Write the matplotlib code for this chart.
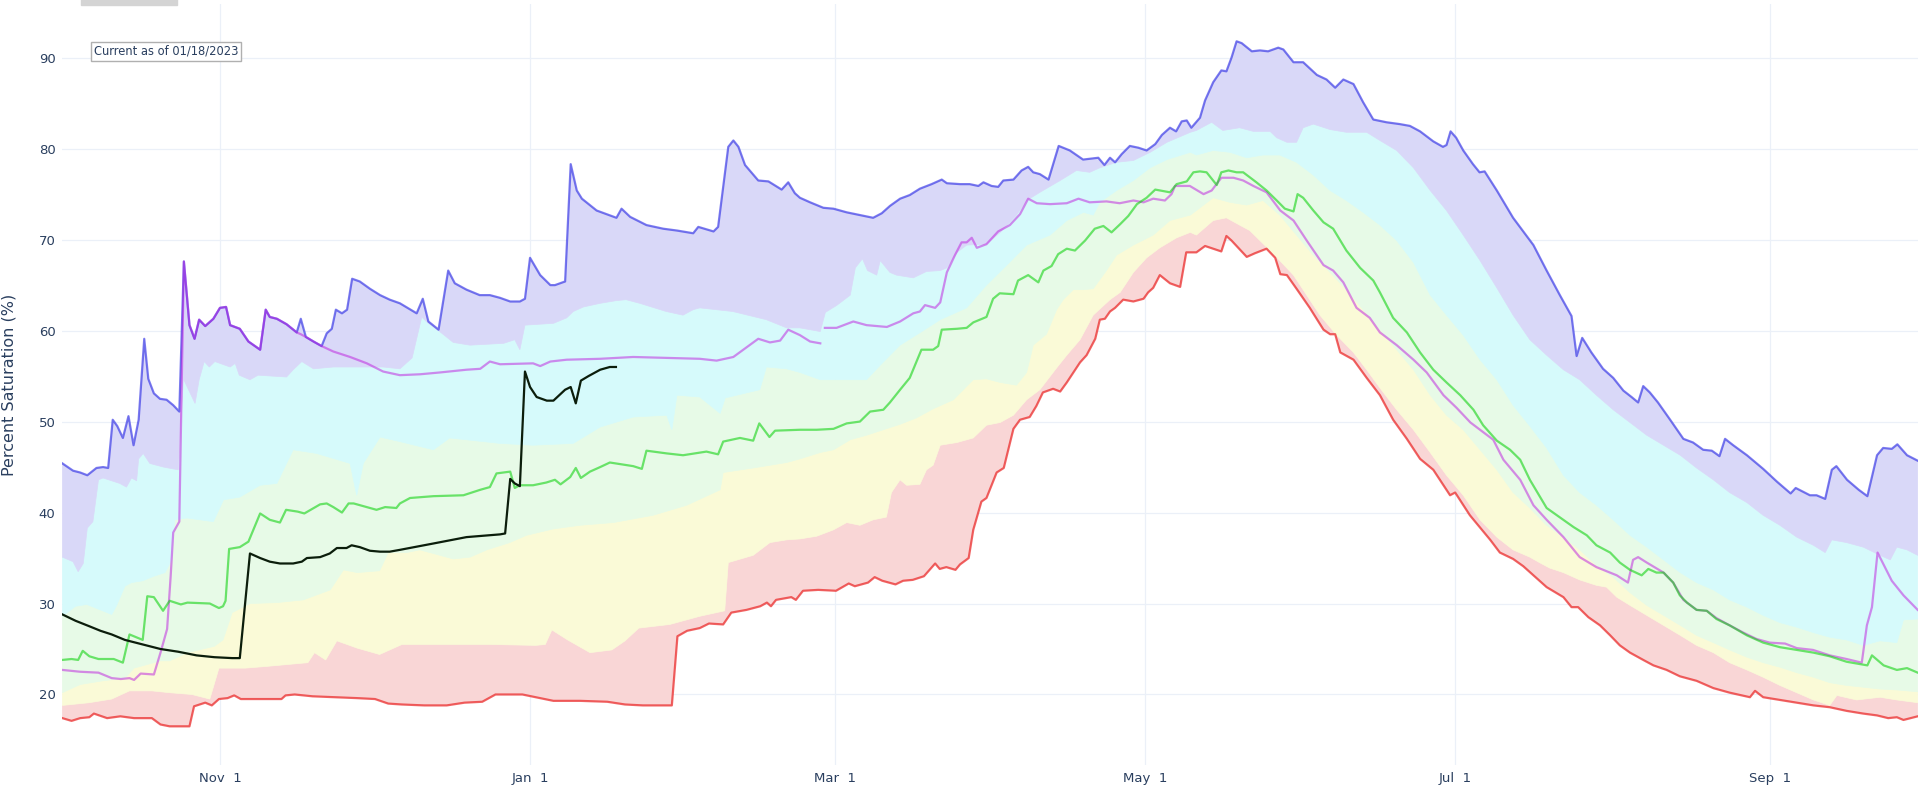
import numpy as np
import pandas as pd
import matplotlib
matplotlib.use("Agg")
import matplotlib.pyplot as plt
from matplotlib.patches import Rectangle

# day of water year (0 = Oct 1), percent saturation
max_pts = [(0, 45.4), (2.1, 44.6), (3.5, 44.4), (4.9, 44.1), (6.7, 44.9), (8.0, 45.0), (9.0, 44.9), (9.9, 50.2),
           (10.8, 49.5), (11.9, 48.2), (13.0, 50.6), (14.0, 47.4), (15.0, 50.2), (16.1, 59.1), (16.9, 54.7),
           (18.0, 53.1), (19.2, 52.5), (20.5, 52.4), (21.8, 51.8), (23.0, 51.1), (23.9, 67.6), (25.0, 60.6),
           (26.0, 59.1), (26.9, 61.2), (28.1, 60.5), (29.7, 61.3), (31.0, 62.5), (32.2, 62.6), (33.0, 60.6),
           (34.9, 60.2), (36.6, 58.8), (38.9, 57.9), (40.0, 62.3), (40.8, 61.5), (42.2, 61.3), (44.1, 60.7),
           (46.1, 59.8), (46.9, 61.3), (47.9, 59.3), (49.4, 58.8), (51.0, 58.3), (52.0, 59.7), (53.0, 60.2),
           (53.8, 62.3), (55.0, 61.9), (56.0, 62.3), (57.0, 65.7), (58.5, 65.4), (60.5, 64.6), (62.5, 63.9),
           (64.4, 63.4), (66.4, 63.0), (69.7, 61.9), (70.9, 63.5), (72.0, 61.0), (74.0, 60.1), (75.9, 66.6),
           (77.2, 65.2), (79.5, 64.5), (82.1, 63.9), (84.1, 63.9), (86.1, 63.6), (88.1, 63.2), (90.0, 63.2),
           (91.0, 63.5), (92.0, 68.0), (94.0, 66.1), (96.0, 65.0), (96.9, 65.0), (98.9, 65.4), (100.0, 78.3),
           (101.2, 75.4), (102.2, 74.5), (105.1, 73.2), (109.0, 72.4), (110.0, 73.4), (111.7, 72.5),
           (114.9, 71.6), (118.2, 71.2), (120.9, 71.0), (124.1, 70.7), (125.1, 71.4), (128.1, 70.9),
           (129.0, 71.4), (131.0, 80.2), (132.0, 80.9), (133.0, 80.2), (134.3, 78.2), (136.9, 76.5),
           (138.9, 76.4), (141.5, 75.5), (142.8, 76.3), (144.1, 75.1), (145.1, 74.6), (147.1, 74.1),
           (149.7, 73.5), (151.7, 73.4), (154.3, 73.0), (156.9, 72.7), (159.5, 72.4), (161.2, 72.9),
           (162.8, 73.7), (164.8, 74.5), (166.7, 74.9), (168.7, 75.6), (171.0, 76.1), (173.0, 76.6),
           (174.0, 76.2), (176.6, 76.1), (178.5, 76.1), (180.2, 75.9), (181.2, 76.3), (182.8, 75.9),
           (184.1, 75.8), (185.1, 76.5), (187.1, 76.6), (188.7, 77.6), (190.0, 78.0), (191.0, 77.4),
           (192.3, 77.2), (194.0, 76.6), (196.0, 80.3), (198.2, 79.8), (200.8, 78.8), (203.8, 79.0),
           (205.0, 78.2), (206.1, 79.0), (207.1, 78.5), (208.4, 79.4), (210.0, 80.3), (211.7, 80.1),
           (213.3, 79.8), (215.0, 80.5), (216.3, 81.5), (217.9, 82.3), (219.1, 81.9), (220.2, 83.0),
           (221.2, 83.1), (222.1, 82.3), (223.8, 83.4), (224.8, 85.3), (226.4, 87.3), (228.0, 88.6),
           (229.0, 88.5), (230.0, 90.0), (231.0, 91.8), (232.0, 91.6), (234.0, 90.7), (235.6, 90.8),
           (237.2, 90.7), (239.2, 91.1), (240.2, 90.9), (242.2, 89.5), (244.1, 89.5), (246.8, 88.1),
           (248.7, 87.6), (250.4, 86.7), (252.0, 87.6), (254.0, 87.1), (255.9, 85.1), (257.9, 83.2),
           (260.5, 82.9), (263.1, 82.7), (265.1, 82.5), (267.1, 81.9), (269.7, 80.8), (271.6, 80.2),
           (272.3, 80.4), (273.1, 81.9), (274.2, 81.2), (275.6, 79.8), (277.5, 78.3), (278.8, 77.4),
           (279.8, 77.5), (282.2, 75.4), (285.4, 72.4), (289.4, 69.4), (292.0, 66.6), (294.6, 63.9),
           (296.9, 61.6), (297.9, 57.2), (299.0, 59.2), (300.8, 57.6), (303.1, 55.8), (305.1, 54.8),
           (307.1, 53.4), (308.7, 52.7), (310.0, 52.1), (311.0, 53.9), (312.3, 53.2), (313.9, 52.1),
           (316.3, 50.2), (318.9, 48.1), (320.8, 47.7), (322.8, 46.9), (324.5, 46.8), (326.0, 46.2),
           (327.1, 48.1), (328.7, 47.4), (331.4, 46.3), (334.6, 44.8), (337.3, 43.4), (340.0, 42.1),
           (341.0, 42.7), (343.8, 41.9), (345.1, 41.9), (346.8, 41.5), (348.1, 44.7), (349.0, 45.1),
           (351.1, 43.6), (353.4, 42.5), (355.1, 41.8), (357.0, 46.3), (358.2, 47.1), (359.9, 47.0),
           (361.0, 47.5), (362.9, 46.3), (365.0, 45.7)]

p90_pts = [(0, 35.1), (2.1, 34.6), (3.1, 33.5), (4.1, 34.4), (4.9, 38.3), (6.0, 39.0), (7.1, 43.6), (8.0, 43.8),
           (11.3, 43.2), (12.6, 42.8), (13.6, 43.8), (14.6, 43.5), (15.0, 45.9), (15.9, 46.5), (17.2, 45.4),
           (19.9, 45.0), (21.8, 44.8), (22.8, 44.7), (23.8, 54.7), (26.1, 52.0), (26.9, 54.6), (27.9, 56.6),
           (28.9, 56.0), (30.0, 56.6), (33.0, 56.0), (34.0, 56.4), (34.8, 55.1), (36.9, 54.6), (38.5, 55.1),
           (44.1, 54.9), (45.4, 55.7), (47.1, 56.6), (49.4, 55.8), (53.3, 56.0), (59.9, 56.0), (63.1, 56.0),
           (66.4, 55.8), (68.8, 57.0), (70.7, 61.5), (72.0, 60.8), (74.0, 60.0), (76.9, 58.7), (80.2, 58.4),
           (83.5, 58.5), (86.8, 58.6), (89.0, 59.0), (90.0, 57.9), (91.0, 60.6), (96.6, 60.8), (99.2, 61.4),
           (100.5, 62.1), (102.5, 62.6), (105.8, 63.0), (109.0, 63.3), (110.9, 63.4), (113.6, 63.0),
           (118.8, 62.1), (122.1, 61.7), (124.1, 62.3), (125.4, 62.5), (131.9, 62.1), (138.5, 61.2),
           (142.5, 60.3), (145.1, 60.3), (149.1, 59.9), (150.1, 62.0), (152.4, 62.8), (155.0, 63.9),
           (156.0, 66.9), (157.4, 67.9), (158.4, 66.6), (160.2, 66.1), (160.9, 67.7), (162.8, 66.4),
           (164.1, 66.1), (167.4, 65.8), (170.0, 66.5), (172.7, 66.6), (174.0, 66.9), (176.0, 68.6),
           (177.9, 69.4), (181.8, 69.5), (184.5, 70.8), (187.7, 72.7), (189.7, 74.3), (192.3, 75.2),
           (196.3, 76.5), (199.5, 77.6), (202.1, 77.4), (204.1, 77.9), (207.4, 78.5), (210.7, 78.7),
           (214.0, 79.6), (217.3, 80.7), (221.9, 81.8), (223.1, 82.0), (226.1, 82.9), (228.3, 82.0),
           (231.6, 82.3), (234.3, 81.9), (237.6, 81.9), (238.9, 81.2), (240.9, 80.7), (242.8, 80.7),
           (244.1, 82.3), (246.1, 82.7), (249.4, 82.1), (252.6, 81.8), (256.6, 81.8), (259.2, 80.9),
           (262.5, 79.8), (265.8, 77.9), (269.1, 75.4), (272.3, 73.2), (275.6, 70.5), (278.9, 67.7),
           (282.2, 64.7), (285.4, 61.7), (288.7, 59.0), (292.0, 57.3), (295.3, 55.7), (298.5, 54.6),
           (301.8, 52.9), (305.1, 51.3), (308.4, 49.9), (311.7, 48.5), (315.0, 47.4), (318.3, 46.3),
           (321.5, 44.9), (324.8, 43.6), (328.0, 42.2), (331.4, 41.1), (334.6, 39.7), (337.9, 38.6),
           (341.2, 37.3), (344.5, 36.4), (346.8, 35.6), (348.1, 37.0), (351.0, 36.7), (354.3, 36.2),
           (357.6, 35.3), (359.6, 34.8), (360.9, 36.2), (362.9, 35.9), (365.0, 35.3)]

p70_pts = [(0, 28.6), (2.6, 29.7), (4.8, 29.9), (7.9, 29.2), (9.7, 28.8), (10.6, 29.7), (12.3, 31.9),
           (13.6, 32.3), (15.8, 32.5), (18.0, 33.0), (20.2, 33.4), (21.5, 34.8), (22.1, 39.2), (24.5, 39.4),
           (27.1, 39.2), (29.7, 39.0), (31.7, 41.4), (34.9, 41.7), (38.9, 43.0), (42.2, 43.2), (45.4, 46.9),
           (50.0, 46.5), (56.6, 45.4), (57.9, 41.9), (59.2, 45.4), (62.5, 48.3), (66.4, 47.8), (73.0, 46.9),
           (76.2, 48.2), (86.1, 47.6), (92.6, 47.4), (100.5, 47.6), (105.8, 49.4), (112.3, 50.5),
           (118.9, 50.7), (119.9, 49.1), (120.9, 52.9), (125.4, 52.7), (129.4, 50.9), (130.4, 52.6),
           (137.2, 53.5), (138.5, 56.0), (142.5, 55.8), (145.1, 55.4), (149.1, 54.6), (153.0, 54.6),
           (158.2, 54.6), (160.9, 56.2), (164.8, 58.4), (168.8, 59.8), (172.7, 61.2), (177.9, 62.5),
           (181.8, 65.0), (185.8, 67.2), (189.7, 69.4), (194.3, 70.5), (197.6, 72.1), (200.9, 73.0),
           (202.8, 72.7), (204.1, 74.1), (207.4, 75.4), (210.7, 76.5), (214.0, 77.9), (217.3, 78.8),
           (221.9, 79.6), (223.1, 79.3), (226.4, 79.8), (229.7, 79.6), (233.0, 79.0), (236.2, 79.3),
           (239.5, 79.3), (242.8, 78.5), (246.1, 77.1), (249.4, 75.4), (252.6, 74.3), (255.9, 73.0),
           (259.2, 71.6), (262.5, 69.9), (265.8, 67.5), (269.1, 63.9), (272.3, 61.7), (275.6, 59.5),
           (278.9, 56.8), (282.2, 54.6), (285.4, 51.8), (288.7, 49.5), (292.0, 47.1), (295.3, 44.1),
           (298.5, 42.2), (301.8, 40.8), (305.1, 39.2), (308.4, 37.5), (311.7, 36.2), (315.0, 34.8),
           (318.3, 33.4), (321.5, 32.3), (324.8, 31.5), (328.0, 30.4), (331.4, 29.6), (334.6, 28.7),
           (337.9, 27.9), (341.2, 27.4), (344.5, 26.8), (347.7, 26.3), (351.0, 26.0), (354.3, 25.4),
           (357.6, 25.9), (360.9, 25.7), (362.2, 28.2), (365.0, 28.3)]

p30_pts = [(0, 20.2), (3.5, 21.1), (7.9, 21.5), (12.3, 21.8), (14.1, 22.9), (16.7, 23.3), (19.3, 23.7),
           (21.1, 23.7), (24.6, 24.6), (29.9, 25.3), (31.6, 26.0), (33.4, 29.0), (36.9, 30.0), (42.2, 30.1),
           (47.4, 30.4), (52.7, 31.5), (55.3, 33.7), (58.0, 33.4), (62.4, 33.6), (64.1, 35.6), (67.7, 35.6),
           (70.3, 35.9), (74.3, 35.3), (76.9, 34.9), (80.2, 35.1), (83.5, 35.9), (88.0, 36.7), (91.3, 37.5),
           (96.6, 38.2), (101.8, 38.6), (108.4, 38.9), (116.2, 39.7), (122.8, 40.8), (129.4, 42.5),
           (130.0, 44.4), (135.9, 44.9), (142.5, 45.5), (145.1, 45.9), (149.1, 46.6), (151.7, 46.9),
           (155.0, 48.0), (158.2, 48.5), (161.5, 49.1), (164.8, 49.7), (168.0, 50.4), (171.3, 51.4),
           (175.3, 52.4), (179.2, 54.6), (181.8, 54.7), (184.5, 54.3), (187.7, 54.0), (189.7, 55.4),
           (191.0, 58.4), (193.6, 59.6), (195.6, 62.3), (196.9, 63.4), (198.9, 64.5), (200.9, 64.5),
           (202.8, 64.6), (205.4, 66.6), (207.4, 68.3), (210.7, 69.4), (214.6, 70.5), (217.9, 72.1),
           (221.9, 72.7), (223.1, 73.2), (226.4, 74.6), (229.7, 74.1), (233.0, 73.8), (236.2, 74.3),
           (239.5, 72.7), (242.8, 70.5), (246.1, 68.3), (249.4, 66.4), (252.6, 64.5), (255.9, 62.3),
           (259.2, 60.1), (262.5, 57.9), (265.8, 55.7), (269.1, 52.9), (272.3, 50.7), (275.6, 49.1),
           (278.9, 46.9), (282.2, 44.7), (285.4, 42.2), (288.7, 40.5), (292.0, 38.6), (295.3, 37.3),
           (298.5, 35.9), (301.8, 34.2), (305.1, 32.9), (308.4, 31.2), (311.7, 29.8), (315.0, 28.7),
           (318.3, 27.6), (321.5, 26.5), (324.8, 25.7), (328.0, 24.9), (331.4, 24.1), (334.6, 23.5),
           (337.9, 23.0), (341.2, 22.4), (344.5, 21.9), (347.7, 21.3), (351.0, 21.0), (354.3, 20.8),
           (357.6, 20.6), (360.9, 20.5), (365.0, 20.3)]

p10_pts = [(0, 18.8), (5.3, 19.1), (9.7, 19.5), (13.2, 20.4), (17.6, 20.4), (21.1, 20.2), (25.5, 20.0),
           (29.0, 19.5), (30.8, 22.9), (36.0, 22.9), (40.4, 23.1), (48.3, 23.5), (49.6, 24.6), (51.8, 23.8),
           (54.0, 25.9), (58.0, 25.1), (62.4, 24.4), (66.8, 25.5), (75.6, 25.5), (84.4, 25.5), (93.1, 25.4),
           (95.0, 25.5), (96.3, 27.1), (99.4, 26.0), (103.8, 24.6), (108.1, 24.9), (110.7, 25.9),
           (113.4, 27.3), (119.5, 27.7), (125.4, 28.6), (130.3, 29.2), (131.0, 34.5), (135.9, 35.3),
           (139.2, 36.7), (142.5, 37.0), (145.1, 37.1), (148.4, 37.4), (151.7, 38.1), (154.3, 38.9),
           (156.9, 38.6), (159.5, 39.2), (162.1, 39.5), (163.1, 42.2), (164.8, 43.6), (166.1, 43.0),
           (168.7, 43.1), (170.0, 44.7), (171.3, 45.2), (172.7, 47.4), (176.0, 47.7), (179.2, 48.2),
           (181.8, 49.6), (184.5, 49.9), (187.1, 50.7), (189.7, 52.4), (192.3, 53.5), (195.6, 55.9),
           (197.6, 57.3), (200.2, 59.0), (202.8, 61.7), (206.1, 63.4), (208.1, 64.2), (210.7, 66.4),
           (213.3, 68.0), (215.9, 69.1), (219.2, 70.2), (221.9, 70.8), (223.1, 70.5), (226.4, 72.1),
           (229.0, 72.4), (231.6, 71.6), (233.6, 71.0), (235.6, 69.9), (237.6, 68.8), (239.5, 67.7),
           (242.2, 66.1), (244.8, 63.9), (247.4, 61.7), (250.7, 59.5), (254.0, 57.6), (256.6, 55.7),
           (259.2, 53.7), (262.5, 51.3), (265.8, 49.1), (269.1, 46.6), (272.3, 44.1), (275.6, 41.9),
           (278.9, 39.2), (282.2, 37.3), (285.4, 35.9), (288.7, 35.1), (290.6, 34.5), (292.6, 33.9),
           (295.3, 33.4), (298.5, 32.6), (301.8, 32.0), (303.8, 31.8), (305.8, 30.7), (308.4, 29.8),
           (311.7, 28.7), (315.0, 27.6), (318.3, 26.5), (321.5, 25.4), (324.8, 24.6), (328.0, 23.5),
           (331.4, 22.7), (334.6, 21.9), (337.9, 21.0), (341.2, 20.2), (344.5, 19.4), (347.7, 18.8),
           (349.1, 19.9), (353.0, 19.4), (357.6, 19.7), (360.9, 19.4), (365.0, 19.1)]

min_pts = [(0, 17.4), (1.8, 17.1), (3.5, 17.4), (5.3, 17.5), (6.2, 17.9), (8.8, 17.4), (11.4, 17.6),
           (14.1, 17.4), (17.6, 17.4), (19.3, 16.7), (21.1, 16.5), (25.0, 16.5), (25.9, 18.7), (28.1, 19.1),
           (29.4, 18.8), (30.8, 19.5), (32.5, 19.6), (33.8, 19.9), (35.1, 19.5), (38.7, 19.5), (43.1, 19.5),
           (43.9, 19.9), (45.7, 20.0), (49.2, 19.8), (53.6, 19.7), (58.0, 19.6), (61.5, 19.5), (64.1, 19.0),
           (66.8, 18.9), (71.2, 18.8), (75.6, 18.8), (79.1, 19.1), (82.6, 19.2), (85.2, 20.0), (90.5, 20.0),
           (93.1, 19.7), (96.6, 19.3), (101.9, 19.3), (107.2, 19.2), (110.7, 18.9), (114.2, 18.8),
           (119.9, 18.8), (121.0, 26.4), (122.9, 27.0), (125.4, 27.3), (127.2, 27.8), (130.0, 27.7),
           (131.6, 29.0), (134.6, 29.3), (137.3, 29.7), (138.6, 30.1), (139.4, 29.7), (140.4, 30.4),
           (143.4, 30.7), (144.3, 30.4), (145.7, 31.4), (148.7, 31.5), (152.2, 31.4), (154.7, 32.2),
           (155.9, 31.9), (158.5, 32.3), (159.8, 32.9), (161.3, 32.5), (163.9, 32.1), (165.4, 32.5),
           (167.3, 32.6), (169.5, 33.0), (171.7, 34.4), (172.6, 33.8), (173.9, 34.0), (175.7, 33.7),
           (176.6, 34.3), (178.3, 35.0), (179.2, 38.1), (180.8, 41.2), (181.8, 41.6), (183.8, 44.4),
           (185.2, 44.9), (187.1, 49.2), (188.4, 50.2), (190.3, 50.5), (191.6, 51.7), (192.9, 53.2),
           (194.9, 53.6), (196.3, 53.3), (197.6, 54.3), (200.2, 56.5), (201.5, 57.3), (203.2, 59.1),
           (204.1, 61.2), (205.1, 61.3), (206.1, 62.1), (207.1, 62.5), (208.7, 63.4), (210.7, 63.2),
           (212.7, 63.5), (213.6, 64.2), (214.6, 64.7), (215.9, 66.1), (217.9, 65.2), (219.9, 64.8),
           (221.1, 68.6), (223.1, 68.6), (224.8, 69.3), (226.4, 69.0), (228.0, 68.7), (229.0, 70.4),
           (230.0, 69.9), (233.0, 68.1), (234.6, 68.5), (236.9, 69.0), (238.6, 68.0), (239.6, 66.2),
           (240.9, 66.1), (242.8, 64.6), (245.4, 62.5), (248.1, 60.1), (249.4, 59.6), (250.4, 59.6),
           (251.4, 57.6), (254.0, 56.8), (256.6, 54.8), (259.2, 52.9), (261.8, 50.2), (264.5, 48.1),
           (267.1, 45.9), (269.7, 44.7), (273.0, 41.9), (274.0, 42.2), (276.9, 39.7), (280.9, 37.0),
           (282.8, 35.6), (285.4, 34.9), (287.4, 34.1), (289.4, 33.1), (292.0, 31.8), (295.3, 30.7),
           (296.9, 29.6), (298.2, 29.6), (300.2, 28.5), (302.5, 27.6), (304.5, 26.5), (306.4, 25.4),
           (308.4, 24.6), (311.0, 23.8), (313.0, 23.2), (315.6, 22.7), (318.2, 22.0), (321.5, 21.5),
           (324.8, 20.7), (328.0, 20.2), (332.0, 19.7), (333.0, 20.4), (334.6, 19.7), (337.9, 19.4),
           (341.2, 19.1), (344.5, 18.8), (347.7, 18.6), (351.0, 18.2), (354.3, 17.9), (357.0, 17.7),
           (359.2, 17.4), (360.9, 17.5), (362.2, 17.2), (365.0, 17.6)]

median_pts = [(0, 23.8), (1.8, 23.9), (3.1, 23.8), (4.0, 24.8), (5.3, 24.2), (7.1, 23.9), (10.1, 23.9),
              (11.9, 23.5), (13.2, 26.6), (15.8, 26.0), (16.7, 30.8), (18.0, 30.7), (19.8, 29.2), (21.1, 30.3),
              (23.3, 29.9), (24.6, 30.1), (29.0, 30.0), (30.8, 29.5), (31.6, 29.7), (32.1, 30.3), (32.8, 36.0),
              (34.9, 36.2), (36.6, 36.8), (38.9, 39.9), (40.8, 39.2), (42.8, 38.9), (44.0, 40.3), (46.3, 40.1),
              (47.6, 39.9), (50.7, 40.9), (52.0, 41.0), (53.3, 40.6), (55.0, 40.0), (56.3, 41.0), (57.3, 41.0),
              (59.9, 40.6), (61.8, 40.3), (63.5, 40.6), (65.7, 40.5), (66.4, 41.0), (68.4, 41.6), (73.0, 41.8),
              (78.9, 41.9), (82.2, 42.5), (84.1, 42.8), (85.4, 44.3), (88.1, 44.5), (89.0, 42.7), (90.0, 43.0),
              (92.6, 43.0), (95.2, 43.3), (96.9, 43.6), (98.0, 43.1), (99.9, 43.9), (101.0, 44.9),
              (102.0, 43.8), (103.8, 44.5), (105.8, 45.0), (107.7, 45.5), (112.3, 45.1), (114.0, 44.8),
              (114.9, 46.8), (118.9, 46.5), (122.1, 46.3), (126.7, 46.7), (129.0, 46.4), (130.0, 47.8),
              (133.3, 48.2), (135.9, 47.9), (137.1, 49.8), (139.1, 48.3), (140.2, 49.0), (145.1, 49.1),
              (148.4, 49.1), (151.7, 49.2), (154.3, 49.8), (156.9, 50.0), (158.9, 51.1), (161.5, 51.3),
              (162.8, 52.1), (164.8, 53.5), (166.7, 54.8), (169.0, 57.9), (171.3, 57.9), (172.3, 58.3),
              (173.0, 60.1), (176.0, 60.2), (177.9, 60.3), (179.2, 60.9), (181.8, 61.5), (183.1, 63.5),
              (184.4, 64.1), (187.1, 64.0), (188.0, 65.5), (190.0, 66.1), (192.0, 65.3), (193.0, 66.6),
              (194.6, 67.1), (195.9, 68.4), (197.6, 69.0), (199.2, 68.8), (201.2, 69.9), (203.1, 71.2),
              (204.8, 71.5), (206.4, 70.8), (208.1, 71.7), (209.7, 72.6), (211.4, 73.9), (213.3, 74.6),
              (215.0, 75.5), (217.9, 75.2), (219.2, 76.1), (221.2, 76.4), (222.5, 77.4), (223.8, 77.5),
              (225.1, 77.4), (227.1, 76.0), (228.0, 77.4), (229.4, 77.6), (231.0, 77.4), (232.3, 77.4),
              (234.9, 76.3), (236.9, 75.4), (238.9, 74.3), (240.5, 73.4), (242.2, 73.1), (243.0, 75.0),
              (244.1, 74.6), (246.1, 73.2), (248.1, 71.9), (250.0, 71.2), (252.6, 68.8), (255.3, 66.9),
              (257.9, 65.5), (259.2, 64.2), (261.8, 61.4), (264.5, 59.8), (267.1, 57.6), (269.7, 55.7),
              (272.3, 54.3), (275.0, 52.9), (277.6, 51.3), (279.5, 49.6), (282.2, 47.9), (284.8, 46.9),
              (286.8, 45.8), (288.7, 43.6), (292.0, 40.5), (295.3, 39.2), (297.3, 38.4), (299.9, 37.5),
              (301.8, 36.4), (304.5, 35.6), (306.4, 34.5), (308.4, 33.7), (310.7, 33.1), (312.0, 33.8),
              (313.6, 33.4), (315.0, 33.4), (316.9, 32.3), (318.2, 30.9), (319.6, 30.1), (321.5, 29.3),
              (323.5, 29.2), (325.4, 28.3), (328.0, 27.6), (331.4, 26.5), (334.6, 25.7), (337.9, 25.2),
              (341.2, 24.9), (344.5, 24.6), (347.7, 24.2), (351.0, 23.6), (355.1, 23.2), (356.0, 24.3),
              (358.3, 23.2), (360.9, 22.7), (362.9, 22.9), (365.0, 22.4)]

wy2022_pts = [(0, 22.7), (3.5, 22.5), (7.1, 22.4), (9.7, 21.8), (11.5, 21.7), (13.2, 21.8), (14.1, 21.6),
              (15.4, 22.3), (18.0, 22.2), (19.3, 24.6), (20.6, 27.2), (21.3, 33.0), (21.8, 37.8), (23.0, 39.0),
              (23.9, 67.6), (25.0, 60.6), (26.0, 59.1), (26.9, 61.2), (28.1, 60.5), (29.7, 61.3), (31.0, 62.5),
              (32.2, 62.6), (33.0, 60.6), (34.9, 60.2), (36.6, 58.8), (38.9, 57.9), (40.0, 62.3), (40.8, 61.5),
              (42.2, 61.3), (44.1, 60.7), (46.1, 59.8), (46.9, 59.6), (47.9, 59.3), (49.4, 58.8), (51.0, 58.3),
              (53.3, 57.7), (56.6, 57.1), (59.9, 56.4), (63.1, 55.5), (66.4, 55.1), (70.4, 55.2), (74.3, 55.4),
              (79.5, 55.7), (82.2, 55.8), (84.1, 56.6), (86.1, 56.3), (92.6, 56.4), (94.0, 56.1), (96.0, 56.6),
              (99.2, 56.8), (105.8, 56.9), (112.3, 57.1), (118.9, 57.0), (125.4, 56.9), (128.7, 56.7),
              (132.0, 57.1), (136.9, 59.1), (139.2, 58.7), (141.2, 58.9), (142.8, 60.1), (145.1, 59.5),
              (147.1, 58.8), (149.1, 58.6), (149.5, np.nan), (150.0, 60.3), (152.3, 60.3), (155.6, 61.0),
              (158.2, 60.6), (162.2, 60.4), (164.8, 61.0), (167.4, 61.9), (168.7, 62.1), (169.7, 62.8),
              (171.7, 62.5), (172.7, 63.1), (174.0, 66.4), (175.6, 68.3), (176.9, 69.7), (177.9, 69.7),
              (178.9, 70.2), (179.9, 69.1), (181.8, 69.5), (184.1, 70.9), (186.4, 71.6), (188.4, 72.8),
              (190.0, 74.5), (191.7, 74.0), (194.3, 73.9), (197.6, 74.0), (199.9, 74.5), (202.1, 74.1),
              (205.4, 74.2), (208.0, 74.0), (210.7, 74.3), (212.7, 74.1), (214.6, 74.5), (216.9, 74.3),
              (218.2, 75.0), (218.9, 75.9), (220.5, 75.9), (221.8, 75.9), (224.5, 75.0), (226.1, 75.4),
              (228.0, 76.8), (230.4, 76.8), (232.3, 76.5), (234.3, 75.9), (236.9, 75.2), (239.6, 73.2),
              (242.2, 72.1), (244.8, 69.9), (248.1, 67.2), (250.0, 66.6), (252.0, 65.3), (254.6, 62.5),
              (257.2, 61.4), (259.2, 59.8), (262.5, 58.4), (265.8, 56.8), (268.4, 55.4), (271.7, 52.9),
              (274.3, 51.5), (277.0, 49.9), (279.6, 48.8), (281.5, 48.0), (283.5, 45.8), (286.8, 43.6),
              (289.4, 40.8), (292.0, 39.2), (295.3, 37.3), (298.5, 35.1), (301.8, 34.0), (305.8, 33.1),
              (308.0, 32.3), (309.0, 34.8), (310.0, 35.1), (311.7, 34.5), (315.0, 33.4), (316.9, 32.3),
              (318.9, 30.4), (321.5, 29.3), (323.5, 29.2), (325.4, 28.4), (328.0, 27.6), (330.7, 26.8),
              (333.3, 26.1), (335.9, 25.7), (338.9, 25.6), (341.2, 25.1), (344.4, 24.9), (347.7, 24.3),
              (351.0, 23.9), (354.0, 23.5), (355.0, 27.6), (356.0, 29.6), (357.1, 35.6), (359.9, 32.5),
              (362.2, 30.9), (365.0, 29.3)]

wy2023_pts = [(0, 28.8), (2.6, 28.1), (5.3, 27.5), (7.5, 27.0), (9.7, 26.6), (12.3, 26.0), (15.8, 25.5),
              (19.3, 25.0), (22.8, 24.7), (26.4, 24.3), (29.9, 24.1), (33.4, 24.0), (34.9, 24.0), (36.9, 35.5),
              (38.9, 35.0), (40.8, 34.6), (42.8, 34.4), (45.4, 34.4), (47.1, 34.6), (48.1, 35.0), (50.7, 35.1),
              (52.6, 35.5), (54.0, 36.1), (55.9, 36.1), (56.9, 36.4), (58.5, 36.2), (60.5, 35.8), (62.5, 35.7),
              (64.4, 35.7), (66.4, 35.9), (73.0, 36.6), (79.5, 37.3), (86.1, 37.6), (87.1, 37.7), (88.1, 43.7),
              (89.0, 43.2), (90.0, 42.9), (91.0, 55.5), (92.0, 53.8), (93.3, 52.7), (95.3, 52.3), (96.6, 52.3),
              (98.9, 53.5), (100.0, 53.8), (101.0, 52.0), (102.0, 54.5), (103.5, 55.0), (105.8, 55.7),
              (107.7, 56.0), (108.9, 56.0)]

tick_dates = ["2019-11-01", "2020-01-01", "2020-03-01", "2020-05-01", "2020-07-01", "2020-09-01"]
start_date = pd.Timestamp("2019-10-01")

band_colors = ["#f9d6d6", "#fafad7", "#e7fae7", "#d6fafb", "#d9d8f8"]
txt_color = "#2a3f5f"


def xy(pts):
    a = np.array(pts, dtype=float)
    return a[:, 0], a[:, 1]


fig = plt.figure(figsize=(19.2, 7.9), dpi=100)
ax = fig.add_axes([62.4 / 1920, 25 / 790, (1917.7 - 62.4) / 1920, 761 / 790])

# percentile bands, each filled between two neighbouring boundaries
bounds = [min_pts, p10_pts, p30_pts, p70_pts, p90_pts, max_pts]
for lo, hi, c in zip(bounds[:-1], bounds[1:], band_colors):
    xl, yl = xy(lo)
    xh, yh = xy(hi)
    ax.fill(np.r_[xh, xl[::-1]], np.r_[yh, yl[::-1]], color=c, lw=0.5, ec=c, zorder=1)

x, y = xy(min_pts)
ax.plot(x, y, color=(0.91, 0.04, 0.04, 0.62), lw=1.6, zorder=3)
x, y = xy(max_pts)
ax.plot(x, y, color=(0.0, 0.0, 0.88, 0.5), lw=1.6, zorder=3)
x, y = xy(wy2022_pts)
ax.plot(x, y, color=(0.74, 0.1, 0.87, 0.5), lw=1.6, zorder=4)
x, y = xy(median_pts)
ax.plot(x, y, color=(0.05, 0.82, 0.05, 0.58), lw=1.6, zorder=5)
x, y = xy(wy2023_pts)
ax.plot(x, y, color="#0b1d0b", lw=1.6, zorder=6)

ax.set_xlim(0, 365)
ax.set_ylim(12.25, 95.9)

tick_pos = [(pd.Timestamp(d) - start_date).days for d in tick_dates]
ax.set_xticks(tick_pos)
ax.set_xticklabels([pd.Timestamp(d).strftime("%b  %-d") for d in tick_dates])
ax.set_yticks(range(20, 91, 10))

ax.grid(True, color="#ebf0f8", lw=0.9)
ax.set_axisbelow(True)
for s in ax.spines.values():
    s.set_visible(False)
ax.tick_params(length=0, labelsize=9.5, colors=txt_color, pad=5)

ax.set_ylabel("Percent Saturation (%)", fontsize=11.5, color=txt_color)
ax.yaxis.set_label_coords(-0.0246, 0.5)

fig.text(94 / 1920, 1 - 51.5 / 790, "Current as of 01/18/2023", fontsize=8.3, color=txt_color,
         ha="left", va="center",
         bbox=dict(boxstyle="square,pad=0.25", fc="white", ec="#b0b0b0", lw=1))

fig.patches.append(Rectangle((81 / 1920, 1 - 5 / 790), 96 / 1920, 12 / 790, transform=fig.transFigure,
                             color="#d4d4d4", zorder=0))

fig.savefig("out.png", dpi=100)
